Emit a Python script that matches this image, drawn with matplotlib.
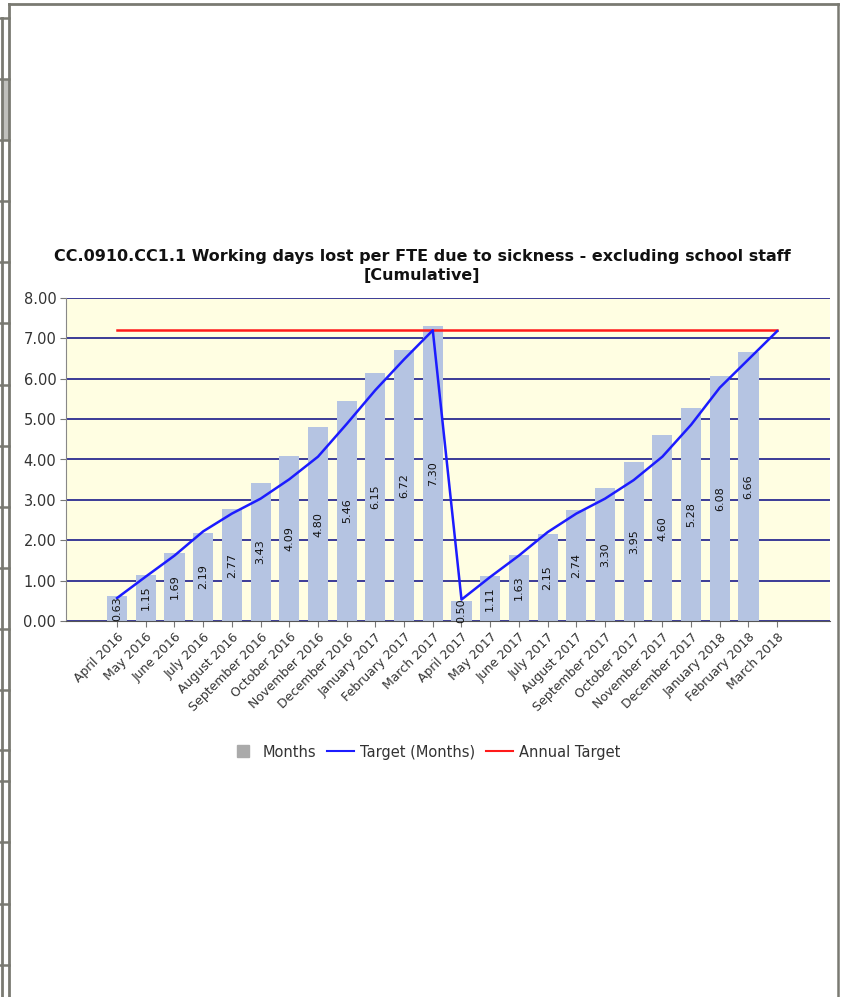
import numpy as np
import matplotlib
matplotlib.use('Agg')
import matplotlib.pyplot as plt
from matplotlib.lines import Line2D
from matplotlib.patches import Rectangle

# chart data
months = ['April 2016', 'May 2016', 'June 2016', 'July 2016', 'August 2016',
          'September 2016', 'October 2016', 'November 2016', 'December 2016',
          'January 2017', 'February 2017', 'March 2017',
          'April 2017', 'May 2017', 'June 2017', 'July 2017', 'August 2017',
          'September 2017', 'October 2017', 'November 2017', 'December 2017',
          'January 2018', 'February 2018', 'March 2018']
actual = [0.63, 1.15, 1.69, 2.19, 2.77, 3.43, 4.09, 4.80, 5.46, 6.15, 6.72, 7.30,
          0.50, 1.11, 1.63, 2.15, 2.74, 3.30, 3.95, 4.60, 5.28, 6.08, 6.66]
target = [0.57, 1.10, 1.62, 2.22, 2.66, 3.03, 3.51, 4.07, 4.88, 5.72, 6.48, 7.20,
          0.53, 1.09, 1.62, 2.20, 2.66, 3.03, 3.49, 4.07, 4.86, 5.78, 6.48, 7.18]
annual_target = 7.2
yticks = [0, 1, 2, 3, 4, 5, 6, 7, 8]

W, H = 841, 997
fig = plt.figure(figsize=(W/100, H/100), dpi=100)

def fx(x):
    return x / W

def fy(y):
    return 1 - y / H

ax = fig.add_axes([fx(66), fy(621), fx(830) - fx(66), fy(298) - fy(621)])
ax.set_facecolor('#fffee2')

x = np.arange(len(months))
bars = ax.bar(x[:len(actual)], actual, width=0.7, color='#b5c4e2', zorder=2)
ax.plot(x, target, color='#1c1cff', lw=1.8, zorder=4)
ax.plot([x[0], x[-1]], [annual_target, annual_target], color='#ff1a1a', lw=1.8, zorder=3)

labels = ax.bar_label(bars, labels=['%.2f' % v for v in actual], label_type='center',
                      rotation=90, fontsize=8, color='#111111', zorder=5)
for t in labels:
    t.set_clip_on(True)

ax.set_xlim(-1.78, 24.84)
ax.set_ylim(0, 8)
ax.set_yticks(yticks)
ax.set_yticklabels(['%.2f' % v for v in yticks], fontsize=10.5, color='#333333')
ax.set_xticks(x)
ax.set_xticklabels(months, rotation=45, ha='right', rotation_mode='anchor',
                   fontsize=9, color='#333333')
ax.tick_params(axis='both', length=4, color='#777777', width=0.8, pad=3)
ax.grid(axis='y', color='#1a1a8a', lw=1.2, zorder=1)
ax.set_axisbelow(True)
for s in ['top', 'right']:
    ax.spines[s].set_visible(False)
ax.spines['left'].set_color('#888888')
ax.spines['bottom'].set_color('#555555')

fig.text(0.502, fy(266), 'CC.0910.CC1.1 Working days lost per FTE due to sickness - excluding school staff\n[Cumulative]',
         ha='center', va='center', fontsize=11.5, fontweight='bold', linespacing=1.4, color='#111111')

handles = [Line2D([], [], marker='s', ls='none', markersize=9, color='#aaaaaa'),
           Line2D([], [], color='#1c1cff', lw=1.5),
           Line2D([], [], color='#ff1a1a', lw=1.5)]
fig.legend(handles, ['Months', 'Target (Months)', 'Annual Target'], ncol=3,
           loc='center', bbox_to_anchor=(fx(425), fy(752)), frameon=False,
           fontsize=10.5, handlelength=1.9, handletextpad=0.4, columnspacing=0.7,
           labelcolor='#333333')

# page frame
gray = '#7a7a72'
fig.add_artist(Line2D([fx(9), fx(838)], [fy(4), fy(4)], color=gray, lw=2.0))
fig.add_artist(Line2D([fx(9), fx(9)], [fy(4), fy(997)], color=gray, lw=2.0))
fig.add_artist(Line2D([fx(838), fx(838)], [fy(4), fy(997)], color=gray, lw=1.8))
fig.add_artist(Line2D([fx(2), fx(2)], [fy(18), fy(997)], color=gray, lw=2.0))
fig.add_artist(Rectangle((fx(2), fy(140)), fx(6), fy(80) - fy(140), color='#c0c0bc'))
for yy in [18, 79, 140, 201, 262, 323, 385, 446, 507, 568, 629, 690, 750, 781, 842, 904, 965]:
    fig.add_artist(Line2D([fx(0), fx(9)], [fy(yy), fy(yy)], color=gray, lw=1.8))

fig.savefig('out.png', dpi=100)
